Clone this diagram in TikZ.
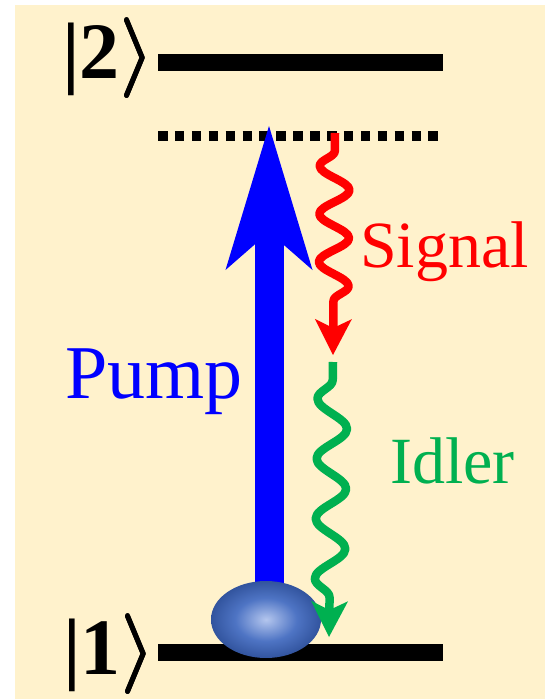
\documentclass[tikz,border=0pt]{standalone}
\usepackage{fix-cm}
\usepackage{amsmath}
\usepackage{fontspec}
\setmainfont{Liberation Serif}
\usetikzlibrary{arrows.meta,positioning,decorations.pathmorphing,shapes.geometric}
\definecolor{bgcream}{RGB}{255,242,204}
\definecolor{idgreen}{RGB}{0,176,80}
\definecolor{ballin}{RGB}{180,198,238}
\definecolor{ballmid}{RGB}{78,116,196}
\definecolor{ballout}{RGB}{50,84,158}
\pgfdeclareradialshading{atomshade}{\pgfpoint{0bp}{0bp}}{color(0bp)=(ballin); color(14bp)=(ballmid); color(25bp)=(ballout); color(50bp)=(ballout)}
\tikzset{
  lvl/.style={line width=17pt},
  virt/.style={line width=10pt,dash pattern=on 9.5pt off 7.4pt},
  ket/.style={inner sep=0pt,anchor=base west,font=\fontsize{80}{80}\selectfont\bfseries\boldmath},
  lab/.style={inner sep=0pt,anchor=base west},
  atom/.style={ellipse,minimum width=110pt,minimum height=77pt,inner sep=0pt,shade,shading=atomshade},
  pumparr/.style={blue,line width=29pt,-{Stealth[length=144pt,width=87pt,inset=38pt,line width=0pt]}},
  wavy/.style={line width=8.5pt,line join=round,decorate,
    decoration={snake,amplitude=15pt,segment length=#1,pre length=18pt,post length=36pt,mirror},
    -{Stealth[length=36pt,width=37pt,inset=9pt,line width=0pt]}},
}
\begin{document}
\begin{tikzpicture}[x=1pt,y=-1pt]
  \useasboundingbox (0,0) rectangle (545,699);
  \fill[bgcream] (14.6,5.2) rectangle (545,699);
  % levels
  \coordinate (t1) at (158,62.5); \coordinate (t2) at (443,62.5);
  \coordinate (v1) at (158,136); \coordinate (v2) at (443,136);
  \coordinate (g1) at (158,652.5); \coordinate (g2) at (443,652.5);
  \draw[lvl] (t1) -- (t2);
  \draw[virt] (v1) -- (v2);
  \draw[lvl] (g1) -- (g2);
  \node[ket] (k2) at (62,78) {|2\pmb{$\rangle$}};
  \node[ket] (k1) at (63,674) {|1\pmb{$\rangle$}};
  % pump
  \coordinate (pf) at (269,600); \coordinate (pt) at (269,126);
  \draw[pumparr] (pf) -- (pt);
  \node[atom] (at) at (266,619.5) {};
  \node[lab,blue,font=\fontsize{76}{80}\selectfont] (pump) at (65,398) {Pump};
  % signal and idler
  \coordinate (s1) at (335,133); \coordinate (s2) at (333,355);
  \coordinate (i1) at (333,362); \coordinate (i2) at (329,637);
  \draw[wavy=48pt,red] (s1) -- (s2);
  \draw[wavy=60pt,idgreen] (i1) -- (i2);
  \node[lab,red,font=\fontsize{66}{70}\selectfont] (sig) at (360,267) {Signal};
  \node[lab,idgreen,font=\fontsize{66}{70}\selectfont] (idl) at (390,483) {Idler};
\end{tikzpicture}
\end{document}
